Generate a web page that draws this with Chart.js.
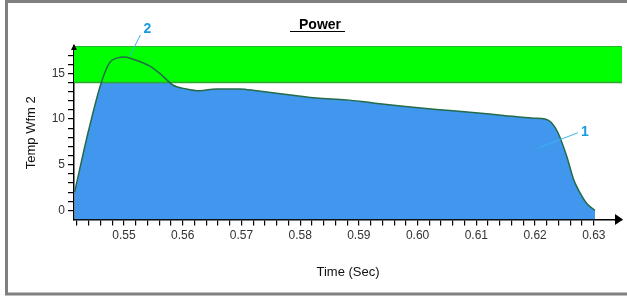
<!DOCTYPE html>
<html>
<head>
<meta charset="utf-8">
<script src="https://cdn.jsdelivr.net/npm/chart.js@4.4.1/dist/chart.umd.min.js"></script>
<style>
  html, body { margin: 0; padding: 0; background: #fff; }
  #wrap { width: 627px; height: 296px; }
</style>
</head>
<body>
<div id="wrap"><canvas id="powerChart"></canvas></div>
<script>
// Temp Wfm 2 sampled against time (sec)
const times = [0.5416, 0.5440, 0.5461, 0.5476, 0.5489, 0.5501, 0.5513, 0.5544, 0.5561,
  0.5584, 0.5606, 0.5629, 0.5657, 0.5697, 0.5726, 0.5777, 0.5828, 0.5879, 0.5919,
  0.5975, 0.6032, 0.6089, 0.6146, 0.6197, 0.6217, 0.6228, 0.6239, 0.6254, 0.6265,
  0.6271, 0.6288, 0.6302];
const temps = [2.0, 8.8, 13.9, 16.2, 16.7, 16.8, 16.6, 15.8, 15.0,
  13.7, 13.3, 13.1, 13.3, 13.3, 13.1, 12.7, 12.3, 12.1, 11.8,
  11.4, 11.05, 10.75, 10.4, 10.1, 10.0, 9.6, 8.5, 5.9, 3.5,
  2.6, 0.75, 0.0];

// limit band
const bandLow = 14;
const bandHigh = 18;

// axes
const xRange = [0.5415, 0.6348];
const yRange = [-1, 18];
const xMajor = [0.55, 0.56, 0.57, 0.58, 0.59, 0.60, 0.61, 0.62, 0.63];
const xMinorStep = 0.002;
const xMinorFirst = 0.542;
const yMajor = [0, 5, 10, 15];
const yMinorStep = 1;
const yMinorLast = 17;

// numbered callouts (data coordinates)
const callouts = [
  { text: '2', from: [0.5510, 16.9], to: [0.5528, 19.2], at: [0.5540, 19.9] },
  { text: '1', from: [0.6208, 6.9], to: [0.6273, 8.5], at: [0.6285, 8.6] },
];

const points = times.map((t, i) => ({ x: t, y: temps[i] }));
const near = (v, list, eps) => list.some(m => Math.abs(m - v) < eps);

const family = '"Liberation Sans", Arial, sans-serif';

const decorations = {
  id: 'decorations',
  afterDraw(chart) {
    const { ctx, chartArea: a, scales: { x, y } } = chart;
    ctx.save();
    // outer frame
    ctx.strokeStyle = '#808080';
    ctx.lineWidth = 3;
    ctx.strokeRect(6.5, 1.5, 640, 292.5);

    // axis arrows
    ctx.fillStyle = '#000';
    ctx.beginPath();
    ctx.moveTo(a.right + 1, a.bottom);
    ctx.lineTo(a.right - 7, a.bottom - 5.5);
    ctx.lineTo(a.right - 7, a.bottom + 5.5);
    ctx.closePath();
    ctx.fill();
    ctx.beginPath();
    ctx.moveTo(a.left, a.top - 2);
    ctx.lineTo(a.left - 3, a.top + 4);
    ctx.lineTo(a.left + 3, a.top + 4);
    ctx.closePath();
    ctx.fill();

    // title
    ctx.font = 'bold 14px ' + family;
    ctx.textAlign = 'center';
    ctx.textBaseline = 'alphabetic';
    ctx.fillText('Power', 320, 29);
    ctx.strokeStyle = '#000';
    ctx.lineWidth = 1;
    ctx.beginPath();
    ctx.moveTo(290, 31.5);
    ctx.lineTo(345, 31.5);
    ctx.stroke();

    // callouts
    ctx.strokeStyle = '#3cb4ec';
    ctx.fillStyle = '#1a9be0';
    ctx.font = 'bold 14px ' + family;
    ctx.textBaseline = 'middle';
    callouts.forEach(c => {
      ctx.beginPath();
      ctx.moveTo(x.getPixelForValue(c.from[0]), y.getPixelForValue(c.from[1]));
      ctx.lineTo(x.getPixelForValue(c.to[0]), y.getPixelForValue(c.to[1]));
      ctx.stroke();
      ctx.fillText(c.text, x.getPixelForValue(c.at[0]), y.getPixelForValue(c.at[1]));
    });
    ctx.restore();
  }
};

new Chart(document.getElementById('powerChart'), {
  type: 'line',
  data: {
    datasets: [
      {
        label: 'fill',
        data: points,
        fill: 'start',
        backgroundColor: '#4196ee',
        borderColor: 'rgba(0,0,0,0)',
        borderWidth: 0,
        pointRadius: 0,
        cubicInterpolationMode: 'monotone',
        order: 4,
      },
      {
        label: 'band',
        data: [{ x: xRange[0], y: bandHigh }, { x: xRange[1], y: bandHigh }],
        fill: { value: bandLow },
        backgroundColor: '#00ff00',
        borderColor: '#2fa52f',
        borderWidth: 1.5,
        pointRadius: 0,
        order: 3,
      },
      {
        label: 'bandEdge',
        data: [{ x: xRange[0], y: bandLow }, { x: xRange[1], y: bandLow }],
        fill: false,
        borderColor: '#2fa52f',
        borderWidth: 1.5,
        pointRadius: 0,
        order: 2,
      },
      {
        label: 'Temp Wfm 2',
        data: points,
        fill: false,
        borderColor: '#236b4a',
        borderWidth: 1.5,
        pointRadius: 0,
        cubicInterpolationMode: 'monotone',
        order: 1,
      },
    ],
  },
  options: {
    responsive: true,
    maintainAspectRatio: false,
    animation: false,
    events: [],
    layout: { padding: { left: 0, top: 46, right: 5, bottom: 0 } },
    plugins: {
      legend: { display: false },
      tooltip: { enabled: false },
    },
    scales: {
      x: {
        type: 'linear',
        min: xRange[0],
        max: xRange[1],
        afterFit: s => { s.height = 76.5; },
        afterBuildTicks: s => {
          const ticks = [];
          for (let v = xMinorFirst; v <= xMajor[xMajor.length - 1] + 1e-9; v += xMinorStep) {
            ticks.push({ value: +v.toFixed(3) });
          }
          s.ticks = ticks;
        },
        ticks: {
          autoSkip: false,
          maxRotation: 0,
          padding: 3,
          color: '#333',
          font: { family, size: 12 },
          callback: v => (near(v, xMajor, 1e-4) ? v.toFixed(2) : ''),
        },
        grid: { drawOnChartArea: false, drawTicks: true, tickLength: 6, color: '#000', lineWidth: 1.2 },
        border: { color: '#000', width: 1.5 },
        title: { display: true, text: 'Time (Sec)', color: '#111', font: { family, size: 13 }, padding: { top: 0, bottom: 16 } },
      },
      y: {
        type: 'linear',
        min: yRange[0],
        max: yRange[1],
        afterFit: s => { s.width = 74; },
        afterBuildTicks: s => {
          const ticks = [];
          for (let v = 0; v <= yMinorLast; v += yMinorStep) ticks.push({ value: v });
          s.ticks = ticks;
        },
        ticks: {
          autoSkip: false,
          padding: 3,
          color: '#333',
          font: { family, size: 12 },
          callback: v => (yMajor.includes(v) ? String(v) : ''),
        },
        grid: { drawOnChartArea: false, drawTicks: true, tickLength: 6, color: '#000', lineWidth: 1.2 },
        border: { color: '#000', width: 1.5 },
        title: { display: true, text: 'Temp Wfm 2', color: '#111', font: { family, size: 13 }, padding: { top: 24, bottom: 0 } },
      },
    },
  },
  plugins: [decorations],
});
</script>
</body>
</html>
